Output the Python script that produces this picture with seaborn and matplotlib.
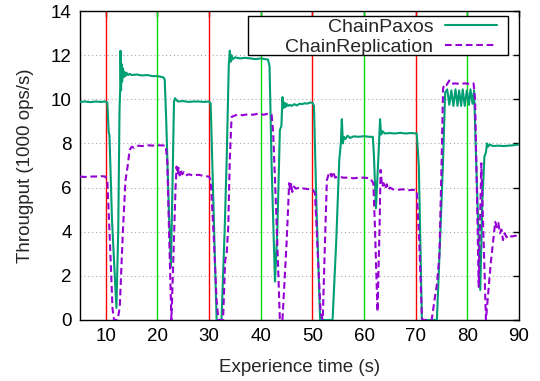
import matplotlib
matplotlib.use("Agg")
import matplotlib.pyplot as plt
from matplotlib.patches import Rectangle
import seaborn as sns
import pandas as pd

# ---- data ----
paxos_t = [5.0, 6.0, 7.0, 8.0, 9.0, 9.9, 10.3, 10.55, 10.7, 11.2, 12.05, 12.4, 12.65, 12.8, 12.85,
           12.95, 13.05, 13.15, 13.3, 13.45, 13.6, 13.8, 14.0, 14.3, 14.6, 15.0, 16.0, 17.0, 18.0,
           19.0, 20.0, 21.1, 21.4, 21.7, 22.2, 22.6, 22.9, 23.2, 23.4, 23.7, 24.0, 25.0, 26.0, 27.0,
           28.0, 29.0, 30.0, 30.3, 30.8, 31.45, 32.4, 33.0, 33.4, 33.8, 34.0, 34.15, 34.3, 34.5,
           35.0, 36.0, 37.0, 38.0, 39.0, 40.0, 41.4, 41.7, 42.1, 42.75, 43.2, 43.7, 44.0, 44.2,
           44.4, 44.6, 44.8, 45.0, 45.3, 45.6, 46.0, 46.5, 47.0, 47.5, 48.0, 48.5, 49.0, 49.5,
           50.0, 50.3, 50.8, 51.5, 53.9, 54.6, 55.2, 55.5, 55.7, 55.9, 56.1, 56.4, 56.8, 57.3,
           58.0, 59.0, 60.0, 61.0, 61.7, 61.9, 62.3, 62.8, 63.1, 63.3, 63.6, 64.0, 65.0, 66.0,
           67.0, 68.0, 69.0, 70.2, 70.6, 71.2, 74.1, 74.7, 75.3, 75.7, 76.1, 76.5, 76.9, 77.3,
           77.7, 78.1, 78.4, 78.8, 79.1, 79.5, 79.9, 80.3, 80.6, 81.0, 81.3, 81.6, 82.5, 82.9,
           83.3, 83.6, 83.8, 84.0, 84.3, 85.0, 86.0, 87.0, 88.0, 89.0, 90.0]
paxos_v = [9.88, 9.9, 9.87, 9.9, 9.88, 9.9, 9.85, 8.5, 8.4, 4.5, 0.55, 4.0, 9.5, 10.6, 12.2,
           10.4, 11.6, 10.8, 11.4, 11.0, 11.25, 11.05, 11.2, 11.1, 11.15, 11.1, 11.12, 11.08, 11.1,
           11.05, 11.05, 11.0, 10.9, 9.0, 5.0, 2.4, 6.0, 9.9, 10.05, 9.95, 9.9, 9.92, 9.88, 9.9,
           9.9, 9.88, 9.9, 9.8, 5.5, 0.0, 0.0, 4.0, 7.25, 11.5, 12.2, 11.7, 12.0, 11.8,
           11.9, 11.85, 11.88, 11.85, 11.82, 11.85, 11.8, 11.5, 7.0, 1.74, 4.0, 8.6, 8.8, 10.1,
           9.6, 9.85, 9.65, 9.8, 9.7, 9.75, 9.7, 9.78, 9.72, 9.8, 9.78, 9.82, 9.8, 9.85,
           9.85, 9.7, 5.0, 0.0, 0.0, 3.5, 7.25, 8.0, 9.1, 8.0, 8.3, 8.2, 8.35, 8.25,
           8.32, 8.3, 8.33, 8.3, 8.3, 7.5, 5.06, 7.5, 9.1, 8.4, 8.55, 8.45, 8.47, 8.45,
           8.48, 8.45, 8.47, 8.45, 7.0, 0.0, 0.0, 3.5, 7.25, 10.3, 10.45, 9.75, 10.4, 9.7,
           10.45, 9.7, 10.4, 9.7, 10.45, 9.7, 10.4, 9.75, 10.45, 9.8, 10.4, 8.0, 1.36, 5.4,
           7.4, 7.6, 8.0, 7.85, 7.95, 7.88, 7.9, 7.88, 7.9, 7.92, 7.95]

repl_t = [5.0, 6.0, 7.0, 8.0, 9.0, 9.9, 10.3, 10.8, 11.3, 11.6, 12.3, 12.7, 13.3, 13.8, 14.3,
          14.6, 15.0, 15.5, 16.0, 17.0, 18.0, 19.0, 20.0, 21.6, 21.9, 22.3, 22.7, 23.1, 23.5,
          23.7, 23.9, 24.1, 24.3, 24.5, 24.8, 25.1, 25.5, 26.0, 27.0, 28.0, 29.0, 30.0, 30.3,
          30.8, 31.45, 31.8, 32.7, 33.1, 33.4, 33.7, 34.0, 34.35, 34.8, 35.5, 36.5, 37.5, 38.5,
          39.5, 40.5, 41.5, 42.1, 42.4, 43.1, 43.7, 44.2, 45.0, 45.5, 45.7, 45.9, 46.1, 46.4,
          46.8, 47.5, 48.5, 49.5, 50.05, 50.5, 51.1, 51.6, 52.0, 52.4, 52.8, 53.1, 53.4, 53.7,
          54.0, 54.4, 55.0, 56.0, 57.0, 58.0, 59.0, 60.0, 61.2, 61.8, 62.1, 62.6, 63.0, 63.2,
          63.5, 63.8, 64.1, 64.4, 64.7, 65.0, 65.6, 66.5, 67.5, 68.5, 69.9, 70.2, 70.7, 71.2,
          71.4, 73.1, 73.7, 74.1, 74.6, 75.0, 75.3, 75.6, 76.0, 76.5, 77.0, 77.5, 78.5, 79.5,
          80.5, 81.2, 81.5, 82.2, 82.7, 83.6, 84.5, 85.4, 85.7, 86.0, 86.3, 86.6, 86.9, 87.2,
          87.6, 88.0, 88.6, 89.2, 89.6]
repl_v = [6.5, 6.48, 6.5, 6.5, 6.52, 6.5, 6.3, 3.5, 0.5, 0.0, 0.0, 0.6, 4.0, 6.3, 7.1,
          7.7, 7.85, 7.8, 7.9, 7.88, 7.92, 7.9, 7.92, 7.9, 7.2, 3.5, 0.0, 3.0, 6.0,
          6.95, 6.6, 6.9, 6.55, 6.8, 6.6, 6.7, 6.55, 6.6, 6.55, 6.58, 6.52, 6.5, 6.34,
          4.2, 0.9, 0.0, 0.0, 2.7, 3.0, 4.2, 7.25, 9.2, 9.25, 9.3, 9.28, 9.32, 9.3,
          9.35, 9.3, 9.35, 9.3, 8.5, 4.2, 0.0, 0.0, 3.5, 6.2, 5.85, 6.2, 5.8, 6.05,
          5.95, 6.0, 5.95, 5.92, 5.92, 5.74, 2.7, 0.3, 0.0, 3.3, 6.34, 6.57, 6.7, 6.5,
          6.72, 6.45, 6.5, 6.45, 6.45, 6.42, 6.45, 6.45, 6.42, 6.19, 4.23, 0.38, 4.2, 6.8,
          6.04, 6.2, 5.94, 6.15, 5.9, 6.0, 5.92, 5.9, 5.92, 5.88, 5.9, 5.84, 3.47, 0.1,
          0.0, 0.0, 1.0, 1.6, 3.0, 7.0, 10.5, 10.7, 10.65, 10.85, 10.7, 10.72, 10.7, 10.72,
          10.7, 10.72, 10.0, 1.5, 7.1, 0.0, 2.5, 4.45, 4.2, 4.4, 3.93, 4.1, 3.62, 3.93,
          3.75, 3.85, 3.78, 3.82, 3.8]

red_lines = [10, 30, 50, 70]
green_lines = [20, 40, 60, 80]
series_names = ["ChainPaxos", "ChainReplication"]
x_ticks = [10, 20, 30, 40, 50, 60, 70, 80, 90]
y_ticks = [0, 2, 4, 6, 8, 10, 12, 14]

# ---- style ----
sns.set_style("white")
plt.rcParams["font.family"] = ["Liberation Sans", "DejaVu Sans"]
plt.rcParams["font.size"] = 13.5

fig = plt.figure(figsize=(5.4, 3.81), dpi=100)
ax = fig.add_axes([80 / 540, 1 - 320 / 381, 439 / 540, 309 / 381])

df_p = pd.DataFrame({"t": paxos_t, "v": paxos_v})
df_r = pd.DataFrame({"t": repl_t, "v": repl_v})

for xv in red_lines:
    ax.axvline(xv, color="#ff0000", lw=1.0, zorder=1)
for xv in green_lines:
    ax.axvline(xv, color="#00e000", lw=1.0, zorder=1)

sns.lineplot(data=df_p, x="t", y="v", ax=ax, color="#009e73", lw=1.5,
             estimator=None, sort=False, label=series_names[0], zorder=3)
sns.lineplot(data=df_r, x="t", y="v", ax=ax, color="#9400d3", lw=1.5,
             estimator=None, sort=False, label=series_names[1], zorder=4,
             dashes=False)
ax.lines[-1].set_dashes([3.2, 1.8])

ax.set_xlim(5, 90)
ax.set_ylim(0, 14)
ax.set_xticks(x_ticks)
ax.set_yticks(y_ticks)
ax.yaxis.grid(True, linestyle=(0, (1, 2.5)), color="#aaaaaa", lw=0.8)
ax.xaxis.grid(False)
ax.set_axisbelow(True)

ax.tick_params(direction="in", length=4, width=1, top=True, right=True,
               labelsize=13.5, colors="black", pad=6)
for s in ax.spines.values():
    s.set_visible(True)
    s.set_color("black")
    s.set_linewidth(1.0)

ax.set_xlabel("Experience time (s)", fontsize=13.5, labelpad=10)
ax.set_ylabel("Througput (1000 ops/s)", fontsize=13.5, labelpad=12)

# legend box (gnuplot-like, wide frame)
ax.add_patch(Rectangle((0.3827, 0.8576), 0.5923, 0.1262, transform=ax.transAxes,
                       facecolor="white", edgecolor="black", lw=1.0, zorder=5,
                       clip_on=False))
leg = ax.legend(loc="upper right", bbox_to_anchor=(0.955, 0.982), borderaxespad=0,
                markerfirst=False, handlelength=2.7, handletextpad=0.6,
                labelspacing=0.1, borderpad=0.1, frameon=False, fontsize=14)
leg.set_zorder(6)
for col in leg._legend_handle_box.get_children():
    col.align = "right"

fig.savefig("out.png", dpi=100)
